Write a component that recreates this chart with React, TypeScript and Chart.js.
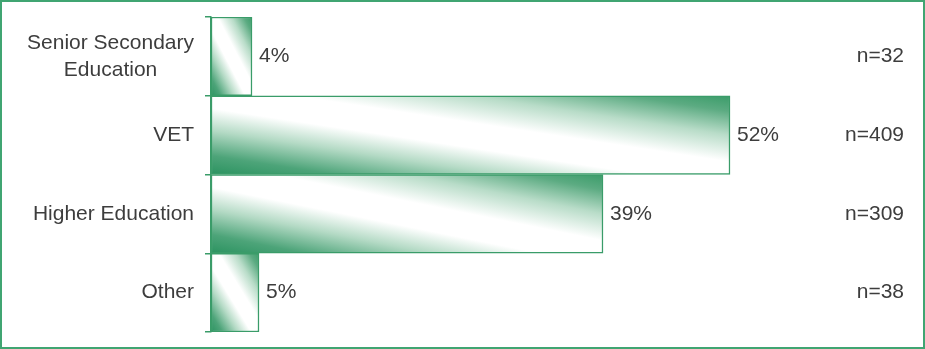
import React, { useEffect, useRef } from "react";
import { Chart, registerables } from "chart.js";

Chart.register(...registerables);

const categories: string[][] = [["Senior Secondary", "Education"], ["VET"], ["Higher Education"], ["Other"]];
const percentValues: number[] = [4.1, 51.9, 39.2, 4.8];
const valueLabels: string[] = ["4%", "52%", "39%", "5%"];
const sampleSizes: string[] = ["n=32", "n=409", "n=309", "n=38"];

const GREEN = "#3a9c69";
const GREEN_DARK = "#2b9360";
const TEXT = "#3d3d3d";
const FONT = '21px "Liberation Sans", Arial, sans-serif';

export default function App() {
  const ref = useRef<HTMLCanvasElement | null>(null);

  useEffect(() => {
    document.body.style.margin = "0";
    const canvas = ref.current;
    if (!canvas) return;

    const labelsPlugin = {
      id: "customLabels",
      afterDatasetsDraw(chart: any) {
        const ctx = chart.ctx;
        const meta = chart.getDatasetMeta(0);
        const yScale = chart.scales.y;
        const area = chart.chartArea;
        ctx.save();
        ctx.font = FONT;
        ctx.fillStyle = TEXT;
        ctx.textBaseline = "middle";
        categories.forEach((lines, i) => {
          const yc = yScale.getPixelForValue(i);
          const widths = lines.map((l) => ctx.measureText(l).width);
          const block = Math.max(...widths);
          const right = area.left - 17;
          const lh = 27;
          lines.forEach((l, k) => {
            ctx.textAlign = "center";
            ctx.fillText(l, right - block / 2, yc + (k - (lines.length - 1) / 2) * lh);
          });
        });
        meta.data.forEach((bar: any, i: number) => {
          ctx.textAlign = "left";
          ctx.fillText(valueLabels[i], bar.x + 7, bar.y);
          ctx.textAlign = "right";
          ctx.fillText(sampleSizes[i], 904, bar.y);
        });
        ctx.restore();
      },
      afterDraw(chart: any) {
        const ctx = chart.ctx;
        ctx.save();
        ctx.strokeStyle = "#40a572";
        ctx.lineWidth = 2;
        ctx.strokeRect(1, 1, chart.width - 2, chart.height - 2);
        ctx.restore();
      },
    };

    const chart = new Chart(canvas, {
      type: "bar",
      data: {
        labels: categories.map((c) => c.join(" ")),
        datasets: [
          {
            data: percentValues,
            backgroundColor: (c: any) => {
              const ch = c.chart;
              const xs = ch.scales?.x;
              const ys = ch.scales?.y;
              if (!xs || !ys || !ch.chartArea) return GREEN;
              const v = c.raw as number;
              const x0 = xs.getPixelForValue(0);
              const x1 = xs.getPixelForValue(v);
              const yc = ys.getPixelForValue(c.dataIndex);
              const h = ys.height / categories.length;
              const yb = yc + h / 2;
              const w = x1 - x0;
              const L2 = w * w + h * h;
              const ex = x0 + (2 * w * h * h) / L2;
              const ey = yb - (2 * w * w * h) / L2;
              const g = ch.ctx.createLinearGradient(x0, yb, ex, ey);
              g.addColorStop(0, GREEN_DARK);
              g.addColorStop(0.12, "#4da479");
              g.addColorStop(0.28, "#b4dac5");
              g.addColorStop(0.42, "#ffffff");
              g.addColorStop(0.58, "#ffffff");
              g.addColorStop(0.75, "#b8dcc8");
              g.addColorStop(0.9, "#5cab82");
              g.addColorStop(1, GREEN);
              return g;
            },
            borderColor: GREEN,
            borderWidth: 1.5,
            borderSkipped: false,
            barPercentage: 1,
            categoryPercentage: 1,
          },
        ],
      },
      options: {
        indexAxis: "y",
        animation: false,
        responsive: true,
        maintainAspectRatio: false,
        layout: { padding: { left: 205, right: 14, top: 17, bottom: 17 } },
        plugins: { legend: { display: false }, tooltip: { enabled: false } },
        scales: {
          x: { display: false, min: 0, max: 70 },
          y: {
            type: "category",
            offset: true,
            grid: {
              display: true,
              drawOnChartArea: false,
              drawTicks: true,
              tickLength: 6,
              color: GREEN,
              lineWidth: 1.5,
              offset: true,
            },
            border: { display: true, color: GREEN, width: 1.5 },
            ticks: { display: false },
          },
        },
      },
      plugins: [labelsPlugin],
    } as any);

    return () => chart.destroy();
  }, []);

  return (
    <div style={{ width: 925, height: 349, position: "relative", background: "#fff" }}>
      <canvas ref={ref} />
    </div>
  );
}
